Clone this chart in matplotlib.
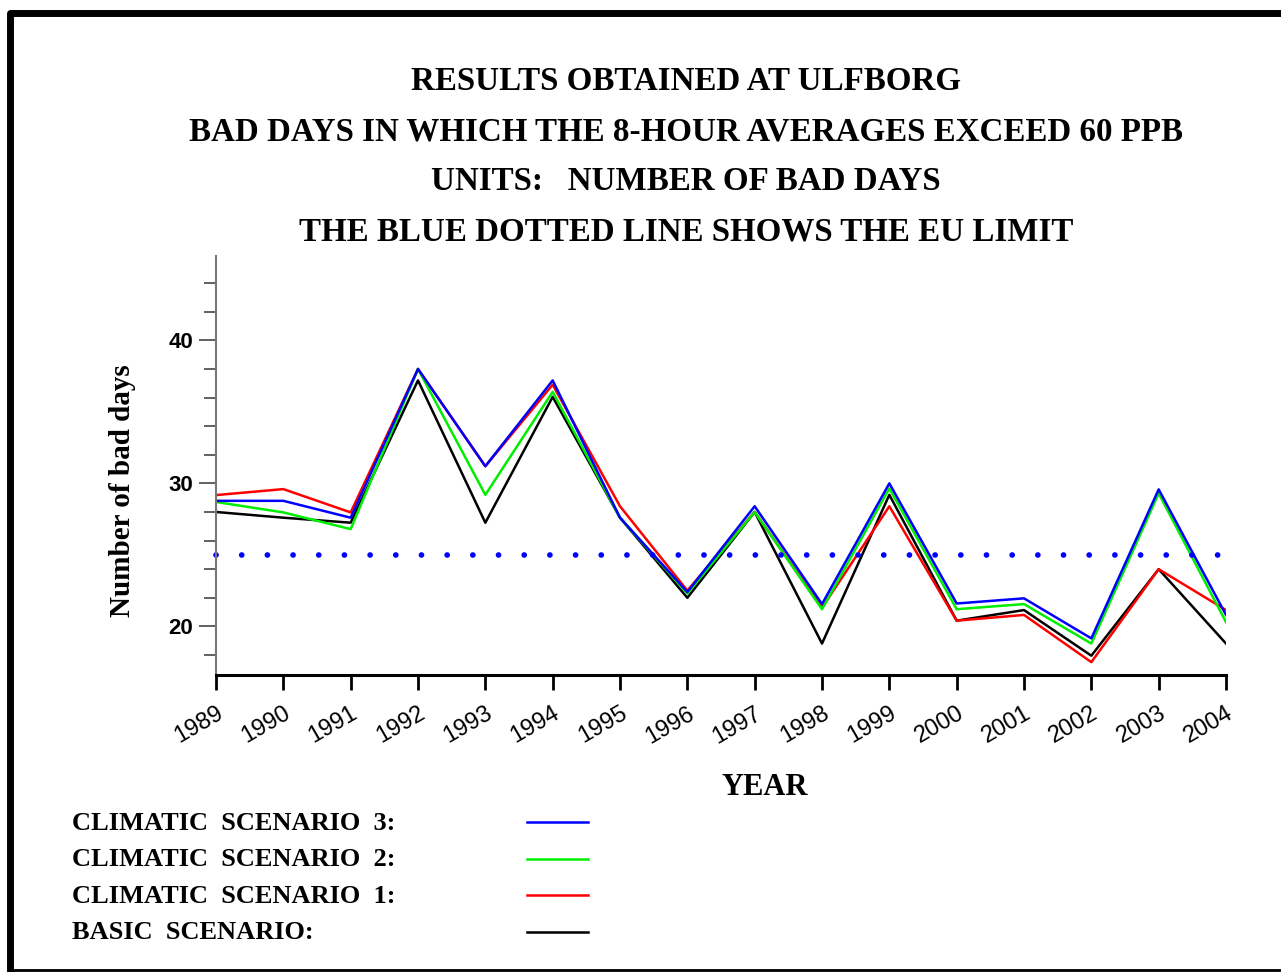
import numpy as np
import matplotlib
matplotlib.use("Agg")
import matplotlib.pyplot as plt
from matplotlib.lines import Line2D
from matplotlib.ticker import MultipleLocator

# data
years = list(range(1989, 2005))
basic = [28.0, 27.6, 27.25, 37.2, 27.25, 36.05, 27.6, 22.0, 28.0, 18.8, 29.2, 20.4, 21.14, 17.95, 24.0, 18.8]
clim1 = [29.18, 29.6, 27.97, 38.0, 31.2, 36.9, 28.4, 22.5, 28.0, 21.3, 28.4, 20.4, 20.8, 17.5, 24.0, 21.14]
clim2 = [28.7, 27.97, 26.8, 38.0, 29.2, 36.4, 27.6, 22.3, 28.0, 21.2, 29.65, 21.2, 21.56, 18.8, 29.3, 20.3]
clim3 = [28.78, 28.78, 27.6, 38.0, 31.2, 37.2, 27.6, 22.4, 28.4, 21.56, 30.0, 21.6, 21.96, 19.16, 29.58, 20.8]
eu_limit = 25.0

titles = ["RESULTS OBTAINED AT ULFBORG",
          "BAD DAYS IN WHICH THE 8-HOUR AVERAGES EXCEED 60 PPB",
          "UNITS:   NUMBER OF BAD DAYS",
          "THE BLUE DOTTED LINE SHOWS THE EU LIMIT"]
legend_labels = ["CLIMATIC  SCENARIO  3:", "CLIMATIC  SCENARIO  2:",
                 "CLIMATIC  SCENARIO  1:", "BASIC  SCENARIO:"]
legend_colors = ["#0000ff", "#00ee00", "#ff0000", "#000000"]

W, H = 1281, 972
fig = plt.figure(figsize=(W / 100, H / 100), dpi=100)
serif = "Liberation Serif"
sans = "Liberation Sans"

# outer frame: thick top/left, thin bottom
fig.add_artist(Line2D([10 / W, 10 / W, 1.05], [1 - 968 / H, 1 - 13.5 / H, 1 - 13.5 / H],
                      color="black", lw=5, solid_joinstyle="round",
                      transform=fig.transFigure))
fig.add_artist(Line2D([10 / W, 1.05], [1 - 970 / H, 1 - 970 / H],
                      color="black", lw=2, transform=fig.transFigure))

ax = fig.add_axes([216 / W, 1 - 675 / H, (1226 - 216) / W, (675 - 256) / H])

ax.plot(years, basic, color="black", lw=1.8)
ax.plot(years, clim1, color="#ff0000", lw=1.8)
ax.plot(years, clim2, color="#00ee00", lw=1.8)
ax.plot(years, clim3, color="#0000ff", lw=1.8)
ax.plot([years[0], years[-1]], [eu_limit, eu_limit], color="#0000ff",
        lw=4.1, linestyle=(0, (0.01, 4.5)), dash_capstyle="round", clip_on=False)

ax.set_xlim(1989, 2004)
ax.set_ylim(16.6, 45.9)

for s in ["top", "right"]:
    ax.spines[s].set_visible(False)
ax.spines["left"].set_color("#777777")
ax.spines["left"].set_linewidth(1.5)
ax.spines["bottom"].set_linewidth(2.2)

ax.set_xticks(years)
ax.set_xticklabels([str(y) for y in years], rotation=30, ha="right",
                   rotation_mode="anchor", fontfamily=sans, fontsize=17)
ax.tick_params(axis="x", length=10.8, width=2, color="black", pad=9)

ax.yaxis.set_major_locator(MultipleLocator(10))
ax.yaxis.set_minor_locator(MultipleLocator(2))
ax.tick_params(axis="y", which="major", length=12.2, width=1.3, color="#555555", pad=4.3)
ax.tick_params(axis="y", which="minor", length=8.6, width=1.3, color="#555555")
for lab in ax.get_yticklabels():
    lab.set_fontfamily(sans)
    lab.set_fontweight("bold")
    lab.set_fontsize(16)

fig.text(122 / W, 1 - 491 / H, "Number of bad days", fontfamily=serif,
         fontsize=21, fontweight="bold", rotation=90, ha="center", va="center")
fig.text(765 / W, 1 - 787 / H, "YEAR", fontfamily=serif, fontsize=22,
         fontweight="bold", ha="center", va="center")

for i, t in enumerate(titles):
    fig.text(686 / W, 1 - (82 + 50 * i) / H, t, fontfamily=serif, fontsize=23.8,
             fontweight="bold", ha="center", va="center")

for i, (lab, c) in enumerate(zip(legend_labels, legend_colors)):
    y = 1 - (823 + 36.5 * i) / H
    fig.text(72 / W, y, lab, fontfamily=serif, fontsize=19, fontweight="bold",
             ha="left", va="center")
    fig.add_artist(Line2D([527 / W, 588 / W], [y + 1 / H, y + 1 / H],
                          color=c, lw=1.8, transform=fig.transFigure))

fig.savefig("out.png", dpi=100)
